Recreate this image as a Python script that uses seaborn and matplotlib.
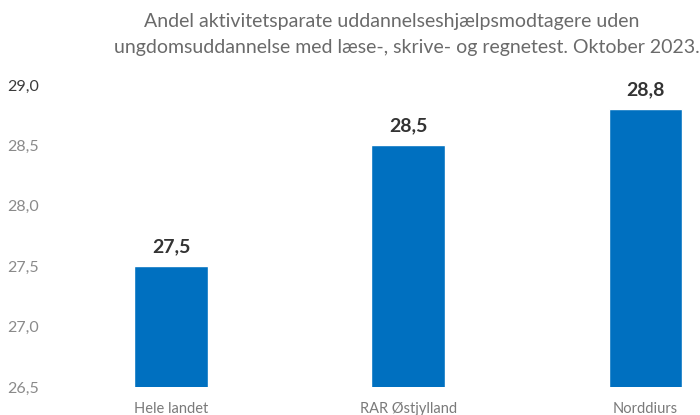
import matplotlib
matplotlib.use("Agg")
import matplotlib.pyplot as plt
import seaborn as sns
import pandas as pd

categories = ["Hele landet", "RAR Østjylland", "Norddiurs"]
values = [27.5, 28.5, 28.8]
value_labels = ["27,5", "28,5", "28,8"]
yticks = [26.5, 27.0, 27.5, 28.0, 28.5, 29.0]
ytick_labels = ["26,5", "27,0", "27,5", "28,0", "28,5", "29,0"]
title_lines = ["Andel aktivitetsparate uddannelseshjælpsmodtagere uden",
               "ungdomsuddannelse med læse-, skrive- og regnetest. Oktober 2023."]

sns.set_theme(style="white")
plt.rcParams["font.family"] = ["Lato", "DejaVu Sans"]

df = pd.DataFrame({"cat": categories, "val": values})

fig = plt.figure(figsize=(7, 4.15), dpi=100)
ax = fig.add_axes([50/700, (415-387)/415, 650/700, 302/415])
sns.barplot(data=df, x="cat", y="val", color="#0070C0", width=0.31,
            saturation=1, ax=ax)
ax.set_xlim(-0.51, 2.23)
ax.set_ylim(26.5, 29.0)
ax.set_yticks(yticks)
ax.set_yticklabels(ytick_labels)
for i, t in enumerate(ax.get_yticklabels()):
    t.set_color("#3a3a3a" if i == len(yticks) - 1 else "#8a8a8a")
    t.set_fontsize(11.5)
ax.tick_params(axis="y", length=0, pad=8)
ax.tick_params(axis="x", length=0, pad=11, labelsize=10.5, labelcolor="#7a7a7a")
ax.set_xlabel("")
ax.set_ylabel("")
for s in ax.spines.values():
    s.set_visible(False)
for i, (v, lab) in enumerate(zip(values, value_labels)):
    ax.annotate(lab, (i, v), xytext=(0, 8), textcoords="offset points",
                ha="center", va="bottom", fontsize=14, fontweight="bold",
                color="#333333")
fig.text(392/700, 1 - 22/415, title_lines[0], ha="center", va="center",
         fontsize=14, color="#6a6a6a")
fig.text(407/700, 1 - 48/415, title_lines[1], ha="center", va="center",
         fontsize=14, color="#6a6a6a")
fig.savefig("out.png", dpi=100)
